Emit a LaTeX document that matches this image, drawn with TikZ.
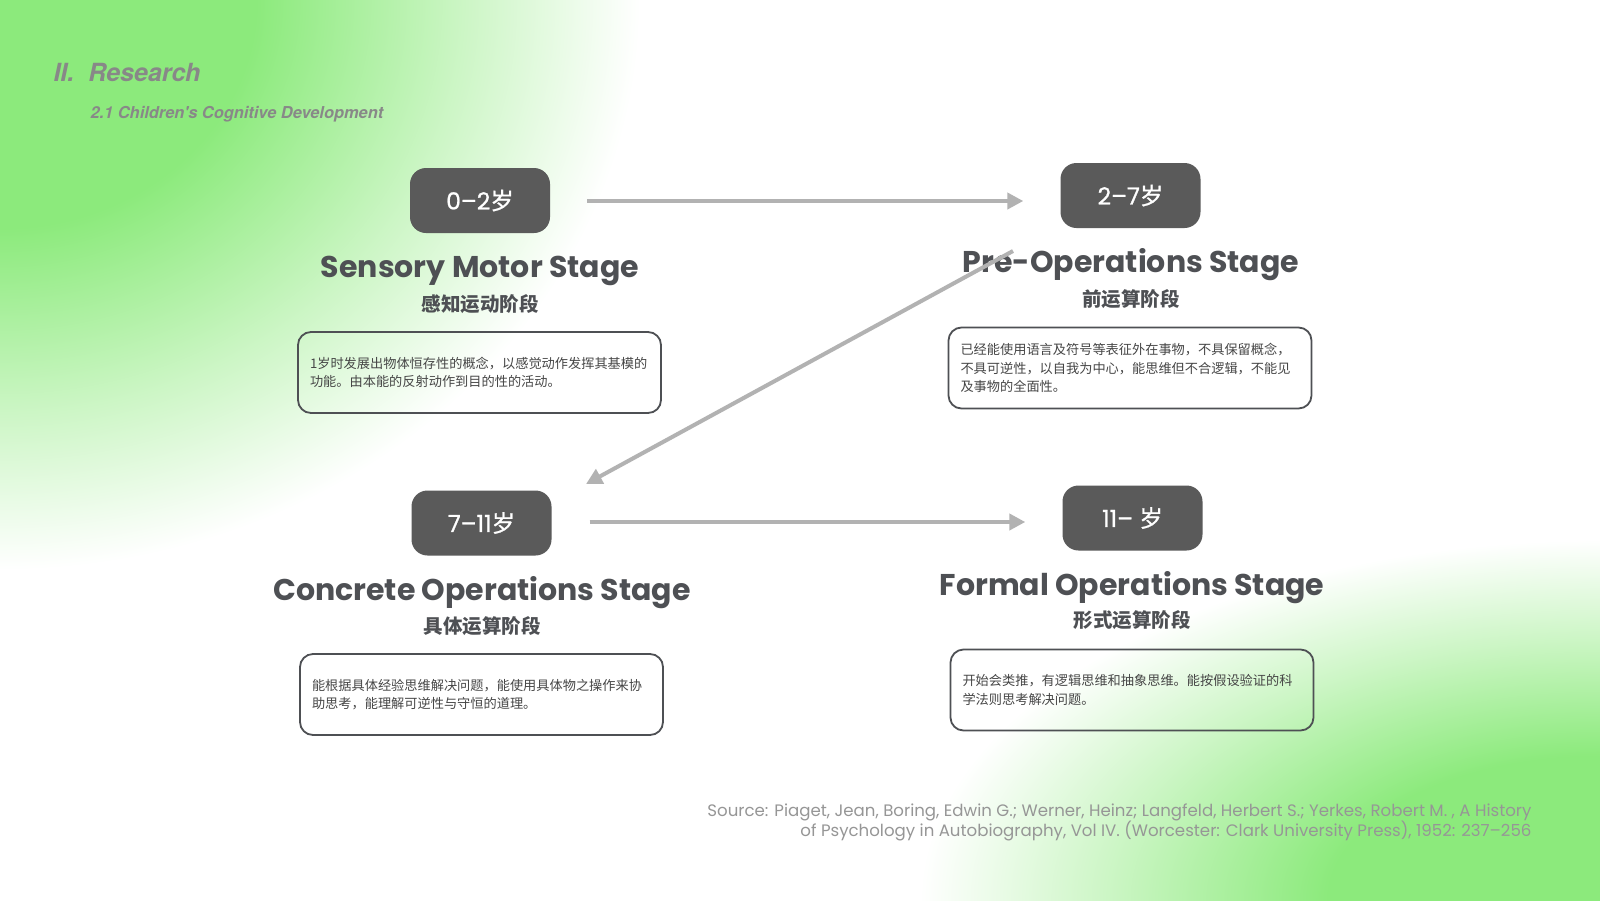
\documentclass[tikz,border=0pt]{standalone}
\usepackage{fontspec}
\setmainfont{Poppins}
\newfontfamily\cjk{Noto Sans CJK SC}
\newfontfamily\heros{TeX Gyre Heros}
\newfontfamily\agefont[FakeBold=0.9]{Poppins}
\newfontfamily\agecjk[FakeBold=0.9]{Noto Sans CJK SC}
\usetikzlibrary{arrows.meta}

\definecolor{leaf}{RGB}{140,234,124}
\definecolor{agegray}{RGB}{90,90,90}
\definecolor{ink}{RGB}{78,80,84}
\definecolor{note}{RGB}{70,70,70}
\definecolor{linkgray}{RGB}{178,178,178}
\definecolor{headgray}{RGB}{136,136,136}
\definecolor{srcgray}{RGB}{150,150,150}

\pgfdeclareradialshading{glow}{\pgfpoint{0bp}{0bp}}{color(0bp)=(leaf); color(10bp)=(leaf); color(18bp)=(leaf!45); color(25bp)=(white); color(50bp)=(white)}

\newcommand\yr{{\agecjk 岁}}

\tikzset{
  agebox/.style={fill=agegray, rounded corners=16pt, minimum width=140pt, minimum height=65pt,
    text=white, font=\agefont\fontsize{23.5}{28}\selectfont},
  stagename/.style={anchor=base, text=ink, font=\bfseries\fontsize{30}{36}\selectfont},
  stagecn/.style={text=ink, font=\cjk\bfseries\fontsize{19.5}{23}\selectfont},
  notebox/.style={draw=ink, line width=1.8pt, rounded corners=13pt, text width=339pt,
    inner xsep=12pt, minimum height=81pt, align=left, text=note,
    font=\cjk\fontsize{13.2}{18.5}\selectfont},
  flow/.style={draw=linkgray, line width=4pt, -{Triangle[length=16pt,width=16pt]}},
  source/.style={anchor=base east, text=srcgray, font=\fontsize{16.6}{19}\selectfont},
}

\begin{document}
\begin{tikzpicture}[x=1pt,y=-1pt]
  % background
  \clip (0,0) rectangle (1600,900);
  \fill[white] (0,0) rectangle (1600,900);
  \shade[shading=glow] (0,0) ellipse [x radius=640pt, y radius=570pt];
  \shade[shading=glow] (1600,900) ellipse [x radius=680pt, y radius=360pt];

  % heading
  \node[anchor=base west, text=headgray, font=\heros\bfseries\itshape\fontsize{25}{30}\selectfont]
    (part) at (50,81) {II.\ \ Research};
  \node[anchor=base west, text=headgray, font=\heros\bfseries\itshape\fontsize{16.4}{20}\selectfont]
    (section) at (87,118) {2.1 Children's Cognitive Development};

  % stages
  \node[agebox] (age1) at (480,200.5) {0–2\yr};
  \node[agebox] (age2) at (1130.5,195.5) {2–7\yr};
  \node[agebox] (age3) at (481.5,523) {7–11\yr};
  \node[agebox] (age4) at (1132.5,518) {11– \yr};

  \node[stagename] (name1) at (480,277.5) {Sensory Motor Stage};
  \node[stagename] (name2) at (1131,272.5) {Pre-Operations Stage};
  \node[stagename] (name3) at (482,600) {Concrete Operations Stage};
  \node[stagename] (name4) at (1132,595) {Formal Operations Stage};

  \node[stagecn] (cn1) at (480,304) {感知运动阶段};
  \node[stagecn] (cn2) at (1131,299) {前运算阶段};
  \node[stagecn] (cn3) at (482,626) {具体运算阶段};
  \node[stagecn] (cn4) at (1132,620) {形式运算阶段};

  \node[notebox] (note1) at (479.5,372.5) {1岁时发展出物体恒存性的概念，以感觉动作发挥其基模的\\功能。由本能的反射动作到目的性的活动。};
  \node[notebox] (note2) at (1130,368) {已经能使用语言及符号等表征外在事物，不具保留概念，\\不具可逆性，以自我为中心，能思维但不合逻辑，不能见\\及事物的全面性。};
  \node[notebox] (note3) at (481.5,694.5) {能根据具体经验思维解决问题，能使用具体物之操作来协\\助思考，能理解可逆性与守恒的道理。};
  \node[notebox] (note4) at (1132,690) {开始会类推，有逻辑思维和抽象思维。能按假设验证的科\\学法则思考解决问题。};

  % arrows
  \coordinate (back start) at (1013,251);
  \coordinate (back end) at (586,484);
  \draw[flow] ([xshift=37pt]age1.east |- 0,201) -- ([xshift=-37pt]age2.west |- 0,201);
  \draw[flow] (back start) -- (back end);
  \draw[flow] ([xshift=38pt]age3.east |- 0,522) -- ([xshift=-37pt]age4.west |- 0,522);

  % source
  \node[source] (src1) at (1535,816)
    {Source: Piaget, Jean, Boring, Edwin G.; Werner, Heinz; Langfeld, Herbert S.; Yerkes, Robert M. , A History};
  \node[source] (src2) at (1535,836)
    {of Psychology in Autobiography, Vol IV. (Worcester: Clark University Press), 1952: 237–256};
\end{tikzpicture}
\end{document}
